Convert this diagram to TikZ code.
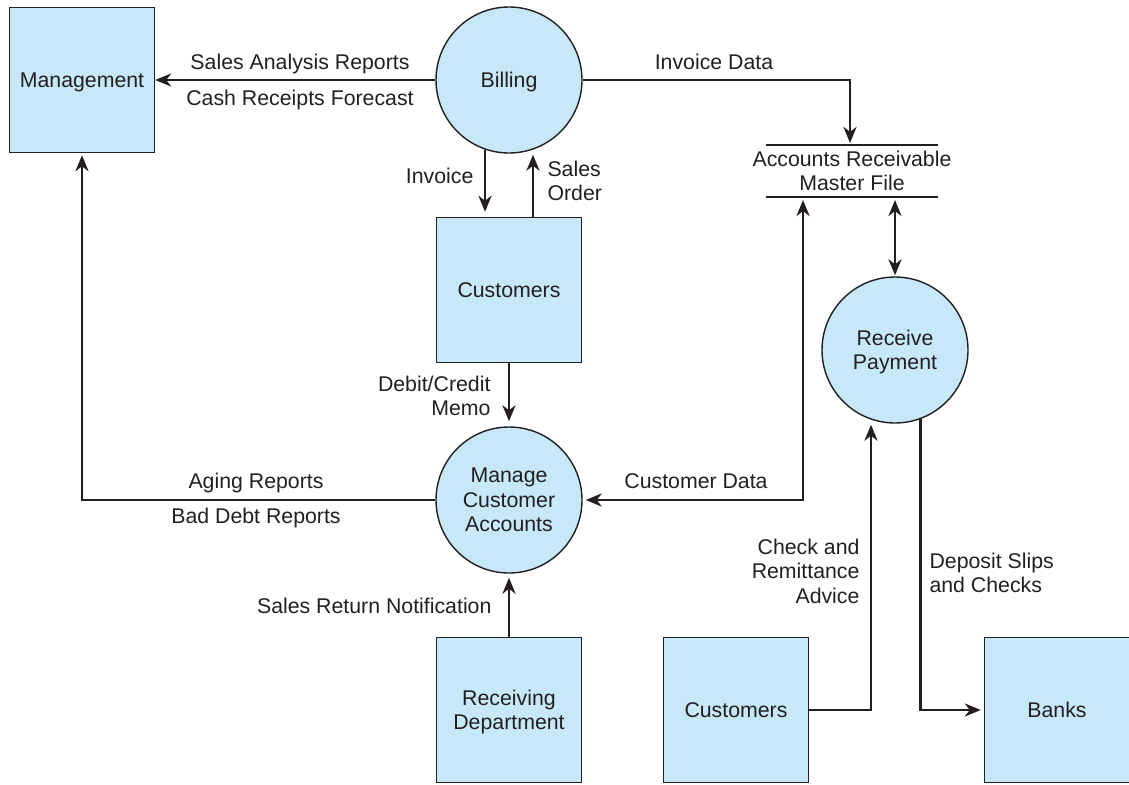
\documentclass[tikz,border=0pt]{standalone}
\usepackage{fontspec}
\setmainfont{Liberation Sans}
\usetikzlibrary{arrows.meta}
\definecolor{ink}{HTML}{231F20}
\definecolor{paleblue}{HTML}{C7E8F8}

\begin{document}
\begin{tikzpicture}[x=1pt,y=-1pt,
    every node/.style={font=\fontsize{21.3}{24.5}\selectfont,color=ink,align=center,text depth=0pt},
    entity/.style={draw=ink,line width=1.4pt,fill=paleblue,minimum width=145pt,minimum height=145pt,inner sep=0pt},
    process/.style={draw=ink,line width=1.4pt,fill=paleblue,circle,minimum size=146pt,inner sep=0pt},
    flow/.style={draw=ink,line width=2.8pt,-{Stealth[length=16pt,width=13pt,inset=5pt]}},
    flowboth/.style={draw=ink,line width=2.8pt,{Stealth[length=16pt,width=13pt,inset=5pt]}-{Stealth[length=16pt,width=13pt,inset=5pt]}}]
  \useasboundingbox (0,0) rectangle (1129,784);

  % entities and processes
  \node[entity] (mgmt) at (82,80) {Management};
  \node[process] (billing) at (509,80) {Billing};
  \node[entity] (cust1) at (509,290) {Customers};
  \node[process] (manage) at (509,500) {Manage\\Customer\\Accounts};
  \node[entity] (recv) at (509,710) {Receiving\\Department};
  \node[entity] (cust2) at (736,710) {Customers};
  \node[entity] (banks) at (1057,710) {Banks};
  \node[process] (payment) at (895,350) {Receive\\Payment};

  % data store
  \node[inner sep=0pt] (arfile) at (852,171) {Accounts Receivable\\Master File};
  \draw[ink,line width=1.4pt] (766,145) -- (938,145);
  \draw[ink,line width=1.4pt] (766,197) -- (938,197);
  \coordinate (arin) at (850,145);
  \coordinate (arcust) at (803,197);
  \coordinate (arpay) at (895,197);

  % flows
  \draw[flow] (billing.west) -- (mgmt.east);
  \draw[flow,shorten >=2pt] (billing.east) -| (arin);
  \draw[flow,shorten >=5pt] (billing.251) -- (billing.251 |- cust1.north);
  \draw[flow,shorten >=5pt] (cust1.north -| billing.289) -- (billing.289);
  \draw[flow,shorten >=5pt] (cust1.south) -- (manage.north);
  \draw[flowboth,shorten <=3pt,shorten >=3pt] (arcust) |- (manage.east);
  \draw[flowboth,shorten <=3pt,shorten >=1pt] (arpay) -- (payment.north);
  \draw[flow,shorten >=2pt] (manage.west) -| (mgmt.south);
  \draw[flow,shorten >=4pt] (recv.north) -- (manage.south);
  \draw[flow,shorten >=5pt] (cust2.east) -| (payment.251);
  \draw[flow,shorten >=3pt] (payment.290) |- (banks.west);

  % labels
  \node (lsar) at (300,62) {Sales Analysis Reports};
  \node (lcrf) at (300,98) {Cash Receipts Forecast};
  \node (linvd) at (714,62) {Invoice Data};
  \node[anchor=east] (linv) at (477,176) {Invoice};
  \node[anchor=west,align=left] (lso) at (544,181) {Sales\\Order};
  \node[anchor=east,align=right] (ldcm) at (494,396) {Debit/Credit\\Memo};
  \node (lcd) at (696,481) {Customer Data};
  \node (lage) at (256,481) {Aging Reports};
  \node (lbdr) at (256,516) {Bad Debt Reports};
  \node[anchor=east] (lsrn) at (495,606) {Sales Return Notification};
  \node[anchor=east,align=right] (lcra) at (863,571) {Check and\\Remittance\\Advice};
  \node[anchor=west,align=left] (ldsc) at (926,573) {Deposit Slips\\and Checks};
\end{tikzpicture}
\end{document}
